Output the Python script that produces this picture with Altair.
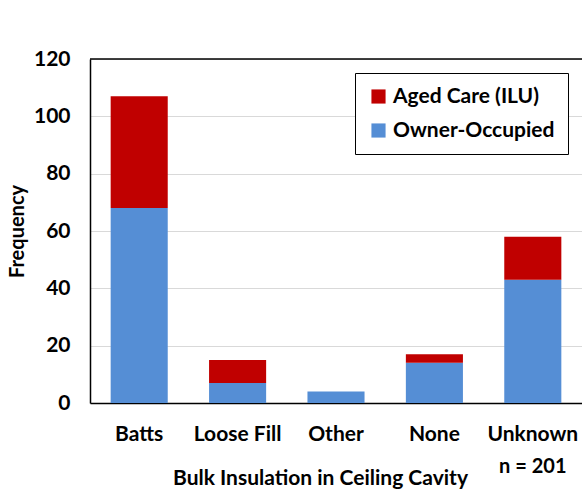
import altair as alt
import pandas as pd

categories = ["Batts", "Loose Fill", "Other", "None", "Unknown"]
owner_occupied = [68, 7, 4, 14, 43]
aged_care = [39, 8, 0, 3, 15]
series_names = ["Aged Care (ILU)", "Owner-Occupied"]
series_colors = ["#C00000", "#558ED5"]
sample_note = "n = 201"

rows = []
for cat, oo, ac in zip(categories, owner_occupied, aged_care):
    rows.append({"cat": cat, "series": "Owner-Occupied", "value": oo, "order": 0})
    rows.append({"cat": cat, "series": "Aged Care (ILU)", "value": ac, "order": 1})
df = pd.DataFrame(rows)

FONT = "Lato"

x_enc = alt.X("cat:N", sort=categories,
              scale=alt.Scale(paddingInner=0.42, paddingOuter=0.21),
              axis=alt.Axis(title="Bulk Insulation in Ceiling Cavity", labelAngle=0,
                            ticks=False, labelPadding=20, titlePadding=23, titleX=230,
                            domainColor="black", domainWidth=1.5,
                            labelFontSize=21, titleFontSize=21))

bars = alt.Chart(df).mark_bar().encode(
    x=x_enc,
    y=alt.Y("sum(value):Q", scale=alt.Scale(domain=[0, 120]),
            axis=alt.Axis(title="Frequency", values=list(range(0, 121, 20)),
                          ticks=False, labelPadding=20, titlePadding=6,
                          domainColor="black", domainWidth=1.5,
                          gridColor="#d9d9d9", labelFontSize=21, titleFontSize=20)),
    color=alt.Color("series:N", sort=series_names,
                    scale=alt.Scale(domain=series_names, range=series_colors),
                    legend=alt.Legend(title=None, orient="none", legendX=265, legendY=14,
                                      fillColor="white", strokeColor="black",
                                      padding=13, rowPadding=12, labelLimit=400,
                                      symbolType="square", symbolSize=200,
                                      symbolStrokeWidth=0, labelFontSize=21,
                                      labelFont=FONT, labelFontWeight="bold",
                                      labelColor="black")),
    order=alt.Order("order:Q"),
)

top_rule = alt.Chart(pd.DataFrame({"y": [120]})).mark_rule(color="black", strokeWidth=1.5).encode(
    y="y:Q"
)

note = alt.Chart(pd.DataFrame({"cat": ["Unknown"], "t": [sample_note]})).mark_text(
    font=FONT, fontWeight="bold", fontSize=20, color="black"
).encode(x=alt.X("cat:N", sort=categories), y=alt.value(408), text="t:N")

chart = alt.layer(bars, top_rule, note).properties(
    width=492, height=344,
    padding={"left": 90, "top": 59, "right": 0, "bottom": 87},
    autosize=alt.AutoSizeParams(type="none"),
).configure_axis(
    labelFont=FONT, titleFont=FONT, labelFontWeight="bold", titleFontWeight="bold",
    labelColor="black", titleColor="black",
).configure_view(stroke=None)

chart.save("out.html", embed_options={"renderer": "svg", "actions": False})
